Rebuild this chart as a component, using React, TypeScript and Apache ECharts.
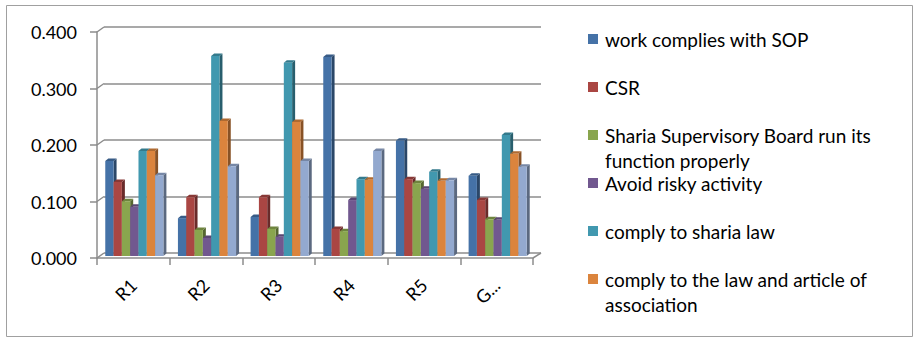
import React, { useEffect, useRef } from "react";
import * as echarts from "echarts";

// Categories along the floor of the chart
const categories = ["R1", "R2", "R3", "R4", "R5", "G..."];

// One array of values per factor
const sopWork = [0.168, 0.067, 0.069, 0.352, 0.204, 0.142];
const csr = [0.131, 0.104, 0.104, 0.048, 0.136, 0.099];
const ssbFunction = [0.097, 0.046, 0.048, 0.044, 0.129, 0.065];
const riskyActivity = [0.087, 0.032, 0.034, 0.099, 0.119, 0.064];
const shariaLaw = [0.186, 0.354, 0.342, 0.136, 0.149, 0.214];
const lawArticle = [0.186, 0.239, 0.237, 0.135, 0.133, 0.181];
const seventhFactor = [0.143, 0.159, 0.168, 0.186, 0.134, 0.158];

const seriesNames = [
  "work complies with SOP",
  "CSR",
  "Sharia Supervisory Board run its function properly",
  "Avoid risky activity",
  "comply to sharia law",
  "comply to the law and article of association",
  "Series 7",
];
// Legend text, wrapped the way the legend shows it (only the first six factors are listed)
const legendLines = [
  ["work complies with SOP"],
  ["CSR"],
  ["Sharia Supervisory Board run its", "function properly"],
  ["Avoid risky activity"],
  ["comply to sharia law"],
  ["comply to the law and article of", "association"],
];
const yTicks = [0, 0.1, 0.2, 0.3, 0.4];

const seriesValues = [sopWork, csr, ssbFunction, riskyActivity, shariaLaw, lawArticle, seventhFactor];
const colors = ["#4572A7", "#AA4643", "#89A54E", "#71588F", "#4198AF", "#DB843D", "#93A9CF"];

const FONT = "Lato, 'Liberation Sans', sans-serif";
const AXIS_GRAY = "#8c8c8c";

function shade(hex: string, f: number): string {
  const n = parseInt(hex.slice(1), 16);
  const r = Math.round(((n >> 16) & 255) * f);
  const g = Math.round(((n >> 8) & 255) * f);
  const b = Math.round((n & 255) * f);
  return `rgb(${r},${g},${b})`;
}

// depth of the 3D column faces
const DX = 3;
const DY = 2.5;
// offset between the front edge of the floor and the back wall
const WALL_DX = 7;
const WALL_DY = 5;

export default function App() {
  const ref = useRef<HTMLDivElement>(null);

  useEffect(() => {
    if (!ref.current) return;
    const chart = echarts.init(ref.current, undefined, { renderer: "svg" });
    const count = seriesValues.length;

    const barSeries = seriesValues.map((vals, s) => ({
      type: "custom",
      name: seriesNames[s],
      xAxisIndex: 0,
      yAxisIndex: 0,
      clip: false,
      z: 3,
      encode: { x: 0, y: 1 },
      data: vals.map((v, i) => [i, v]),
      renderItem: (params: any, api: any) => {
        const cat = api.value(0);
        const v = api.value(1);
        const base = api.coord([cat, 0]);
        const top = api.coord([cat, v]);
        const band = api.size([1, 0])[0];
        const w = (band * 0.8) / count;
        const x = base[0] + 1 - (count / 2) * w + s * w;
        const yb = base[1] - 2;
        const yt = top[1] - 2;
        const c = colors[s];
        return {
          type: "group",
          children: [
            {
              type: "polygon",
              shape: { points: [[x + w, yt], [x + w + DX, yt - DY], [x + w + DX, yb - DY], [x + w, yb]] },
              style: { fill: shade(c, 0.62) },
            },
            {
              type: "polygon",
              shape: { points: [[x, yt], [x + DX, yt - DY], [x + w + DX, yt - DY], [x + w, yt]] },
              style: { fill: shade(c, 0.8) },
            },
            {
              type: "rect",
              shape: { x, y: yt, width: w, height: yb - yt },
              style: { fill: c },
            },
          ],
        };
      },
    }));

    // slanted edges joining the front axis to the back wall
    const frameSeries = {
      type: "custom",
      name: "frame",
      xAxisIndex: 0,
      yAxisIndex: 0,
      clip: false,
      silent: true,
      z: 2,
      encode: { x: 0, y: 1 },
      data: yTicks.map((v) => [0, v]),
      renderItem: (params: any, api: any) => {
        const v = api.value(1);
        const p = api.coord([0, v]);
        const band = api.size([1, 0])[0];
        const left = p[0] - band / 2;
        const children: any[] = [
          {
            type: "line",
            shape: { x1: left, y1: p[1], x2: left + WALL_DX, y2: p[1] - WALL_DY },
            style: { stroke: AXIS_GRAY, lineWidth: 1.5 },
          },
        ];
        if (v === 0) {
          const pr = api.coord([categories.length - 1, 0]);
          const right = pr[0] + band / 2;
          children.push({
            type: "line",
            shape: { x1: right, y1: pr[1], x2: right + WALL_DX + 1, y2: pr[1] - WALL_DY },
            style: { stroke: AXIS_GRAY, lineWidth: 1.5 },
          });
        }
        return { type: "group", children };
      },
    };

    const legendGraphics: any[] = [];
    legendLines.forEach((lines, i) => {
      const cy = 39 + i * 48;
      legendGraphics.push({
        type: "rect",
        shape: { x: 588, y: cy - 5, width: 10, height: 10 },
        style: { fill: colors[i] },
      });
      legendGraphics.push({
        type: "text",
        x: 605,
        y: cy - 12.5,
        style: {
          text: lines.join("\n"),
          font: `19px ${FONT}`,
          fill: "#000",
          lineHeight: 25,
          verticalAlign: "top",
          align: "left",
        },
      });
    });

    chart.setOption({
      animation: false,
      backgroundColor: "#ffffff",
      grid: [
        { left: 97, top: 32, width: 436, height: 226 },
        { left: 104, top: 27, width: 437, height: 226 },
      ],
      xAxis: [
        {
          type: "category",
          gridIndex: 0,
          data: categories,
          axisLine: { lineStyle: { color: AXIS_GRAY, width: 1.5 } },
          axisTick: { show: true, length: 7, lineStyle: { color: AXIS_GRAY, width: 1.5 } },
          axisLabel: { rotate: 45, margin: 24, fontSize: 18, fontFamily: FONT, color: "#000", interval: 0 },
          splitLine: { show: false },
        },
        {
          type: "category",
          gridIndex: 1,
          data: categories,
          show: false,
        },
      ],
      yAxis: [
        {
          type: "value",
          gridIndex: 0,
          min: 0,
          max: 0.4,
          interval: 0.1,
          axisLine: { show: true, lineStyle: { color: AXIS_GRAY, width: 1.5 } },
          axisTick: { show: true, length: 7, lineStyle: { color: AXIS_GRAY, width: 1.5 } },
          axisLabel: {
            margin: 20,
            fontSize: 18,
            fontFamily: FONT,
            color: "#000",
            formatter: (v: number) => v.toFixed(3),
          },
          splitLine: { show: false },
        },
        {
          type: "value",
          gridIndex: 1,
          min: 0,
          max: 0.4,
          interval: 0.1,
          axisLine: { show: false },
          axisTick: { show: false },
          axisLabel: { show: false },
          splitLine: { show: true, lineStyle: { color: AXIS_GRAY, width: 1.5 } },
        },
      ],
      graphic: [
        {
          type: "rect",
          shape: { x: 6.5, y: 5.5, width: 906, height: 331 },
          style: { fill: "none", stroke: "#a0a0a0", lineWidth: 1 },
          z: -1,
        },
        ...legendGraphics,
      ],
      series: [frameSeries, ...barSeries],
    });

    return () => chart.dispose();
  }, []);

  return <div ref={ref} style={{ position: "absolute", left: 0, top: 0, width: 918, height: 338 }} />;
}
